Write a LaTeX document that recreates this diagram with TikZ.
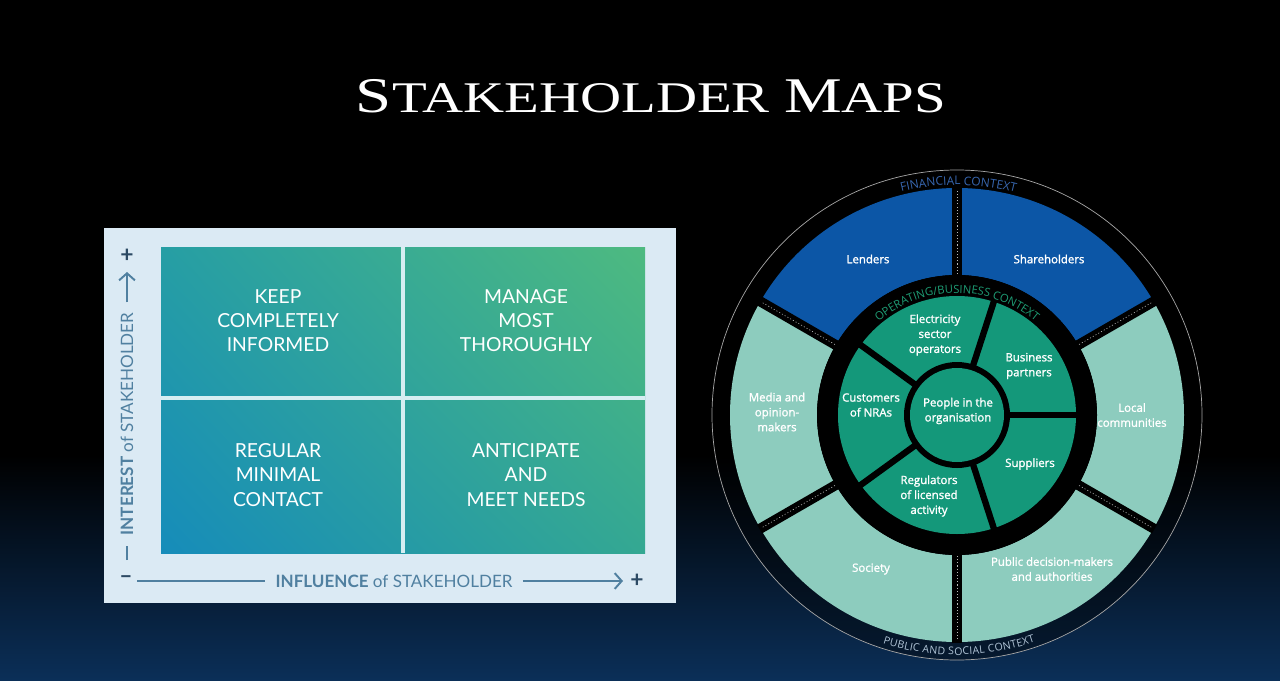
\documentclass[tikz,border=0pt]{standalone}
\usepackage{fontspec}
\usepackage{graphicx}
\usetikzlibrary{arrows.meta,decorations.text,shadings}
\newfontfamily\titlefont{Liberation Serif}
\newfontfamily\gridfont{Lato}
\newfontfamily\ringfont{Open Sans}
\newfontfamily\labelfont[FakeBold=1.5]{Open Sans}

\definecolor{navy}{RGB}{11,47,88}
\definecolor{panel}{RGB}{219,234,244}
\definecolor{gapline}{RGB}{214,238,242}
\definecolor{axisblue}{RGB}{80,128,160}
\definecolor{axisdark}{RGB}{44,74,100}
\definecolor{finblue}{RGB}{12,86,166}
\definecolor{paleteal}{RGB}{141,204,190}
\definecolor{opgreen}{RGB}{20,152,122}
\definecolor{finlabel}{RGB}{55,102,175}
\definecolor{oplabel}{RGB}{30,156,116}
\definecolor{publabel}{RGB}{176,196,214}
\definecolor{gridUL}{RGB}{38,158,164}
\definecolor{gridUR}{RGB}{78,186,128}
\definecolor{gridLL}{RGB}{22,140,186}
\definecolor{gridLR}{RGB}{52,168,146}

\begin{document}
\begin{tikzpicture}[x=0.2mm,y=0.2mm,
  quad/.style={text=white, align=center, inner sep=0pt,
    font=\gridfont\fontsize{11}{13.7}\selectfont},
  axislab/.style={text=axisblue, inner sep=0pt,
    font=\gridfont\fontsize{9.7}{12}\selectfont},
  axisline/.style={draw=axisblue, line width=1.1pt},
  sign/.style={text=axisdark, inner sep=0pt,
    font=\gridfont\bfseries\fontsize{13}{13}\selectfont},
  seglab/.style={text=white, align=center, inner sep=0pt,
    font=\labelfont\fontsize{6.5}{8.5}\selectfont},
  outerdiv/.style={black, line width=5.7pt},
  dotdiv/.style={gray!55, line width=0.35pt, dash pattern=on 0.6pt off 1.2pt},
  innerdiv/.style={black, line width=3.6pt},
]
\useasboundingbox (0,0) rectangle (1280,680);

% background
\fill[black] (0,0) rectangle (1280,680);
\shade[top color=black, bottom color=navy] (0,0) rectangle (1280,225);

% title
\node[anchor=base, text=white, inner sep=0pt] (title) at (651,567)
  {\scalebox{1.3}[1]{\titlefont{\fontsize{28.4}{30}\selectfont S}{\fontsize{24.9}{30}\selectfont TAKEHOLDER}\fontsize{24.9}{30}\selectfont\ {\fontsize{28.4}{30}\selectfont M}{\fontsize{24.9}{30}\selectfont APS}}};

% ---------- interest / influence grid ----------
\fill[panel] (104,77) rectangle (676,452);
\shade[upper left=gridUL, upper right=gridUR, lower left=gridLL, lower right=gridLR]
  (161,127) rectangle (645,433);
\draw[gapline, line width=2.3pt] (403,127) -- (403,433);
\draw[gapline, line width=2.3pt] (161,282) -- (645,282);

\node[quad] (keep)     at (278,359) {KEEP\\COMPLETELY\\INFORMED};
\node[quad] (manage)   at (526,359) {MANAGE\\MOST\\THOROUGHLY};
\node[quad] (regular)  at (278,205) {REGULAR\\MINIMAL\\CONTACT};
\node[quad] (anticip)  at (526,205) {ANTICIPATE\\AND\\MEET NEEDS};

% axes
\node[sign] (minus) at (126,100) {–};
\node[sign] (plusy) at (127,424) {+};
\node[sign] (plusx) at (637,99) {+};
\node[axislab, rotate=90] (ylab) at (127,256) {\textbf{INTEREST} of STAKEHOLDER};
\node[axislab] (xlab) at (394,99) {\textbf{INFLUENCE} of STAKEHOLDER};
\coordinate (ybot) at (127,120);
\coordinate (ytop) at (127,408);
\coordinate (xleft) at (137,99);
\coordinate (xtip) at (623,99);
\draw[axisline] (ybot) -- ([yshift=-2mm]ylab.west);
\draw[axisline, -{Straight Barb[length=4pt,width=9pt]}] ([yshift=2mm]ylab.east) -- (ytop);
\draw[axisline] (xleft) -- ([xshift=-2mm]xlab.west);
\draw[axisline, -{Straight Barb[length=4pt,width=9pt]}] ([xshift=2mm]xlab.east) -- (xtip);

% ---------- stakeholder wheel ----------
\begin{scope}[shift={(957,265)}]
  \fill[black, opacity=0.4] (0,0) circle[radius=245];
  \draw[gray!70, line width=0.4pt] (0,0) circle[radius=245];
  % outer ring: financial and public/social stakeholders
  \foreach \s/\c in {30/finblue, 90/finblue, 150/paleteal, 210/paleteal, 270/paleteal, 330/paleteal}
    \fill[\c] (\s:227) arc[start angle=\s, delta angle=60, radius=227]
      -- ({\s+60}:140) arc[start angle=\s+60, delta angle=-60, radius=140] -- cycle;
  \foreach \a in {30,90,...,330} {
    \draw[outerdiv] (\a:136) -- (\a:228);
    \draw[dotdiv] (\a:141) -- (\a:226);
  }
  % operating/business ring
  \fill[black] (0,0) circle[radius=140];
  \fill[opgreen] (0,0) circle[radius=119];
  \foreach \a in {0,72,...,288}
    \draw[innerdiv] (\a:45) -- (\a:121);
  \fill[black] (0,0) circle[radius=53];
  \fill[opgreen] (0,0) circle[radius=47];
  % context captions
  \path[decorate, decoration={text along path, text align=fit to path, text color=finlabel,
      text={|\ringfont\fontsize{6.8}{8}\selectfont|FINANCIAL CONTEXT}}]
    (104:230) arc[start angle=104, end angle=76, radius=230];
  \path[decorate, decoration={text along path, text align=fit to path, text color=oplabel,
      text={|\ringfont\fontsize{6.4}{8}\selectfont|OPERATING/BUSINESS CONTEXT}}]
    (130:122) arc[start angle=130, end angle=50, radius=122];
  \path[decorate, decoration={text along path, text align=fit to path, text color=publabel,
      text={|\ringfont\fontsize{6}{8}\selectfont|PUBLIC AND SOCIAL CONTEXT}}]
    (252:240) arc[start angle=252, end angle=289, radius=240];
\end{scope}

% wheel labels
\node[seglab] (lenders) at (868,421) {Lenders};
\node[seglab] (sharehold) at (1049,421) {Shareholders};
\node[seglab] (media) at (777,268) {Media and\\opinion-\\makers};
\node[seglab] (local) at (1132,265) {Local\\communities};
\node[seglab] (society) at (871,111) {Society};
\node[seglab] (public) at (1052,111) {Public decision-makers\\and authorities};
\node[seglab] (elec) at (935,345) {Electricity\\sector\\operators};
\node[seglab] (partners) at (1029,314) {Business\\partners};
\node[seglab] (customers) at (871,275) {Customers\\of NRAs};
\node[seglab] (people) at (958,269) {People in the\\organisation};
\node[seglab] (suppliers) at (1030,216) {Suppliers};
\node[seglab] (regulators) at (929,184) {Regulators\\of licensed\\activity};
\end{tikzpicture}
\end{document}
